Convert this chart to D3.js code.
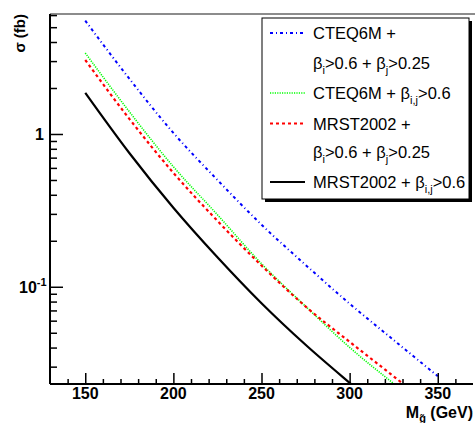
<!DOCTYPE html>
<html>
<head>
<meta charset="utf-8">
<script src="https://cdn.jsdelivr.net/npm/d3@7"></script>
<style>
  body { margin: 0; background: #fff; }
  svg { display: block; font-family: "Liberation Sans", Arial, Helvetica, sans-serif; }
</style>
</head>
<body>
<svg id="chart" width="475" height="423"></svg>
<script>
// ---- data ----
const massX = [150, 175, 200, 225, 250, 275, 300, 325, 350];
const cteqLoose = [5.52, 2.30, 1.016, 0.50, 0.255, 0.139, 0.0775, 0.0448, 0.0260];
const massGreen = [150, 175, 200, 225, 250, 275, 300, 325];
const cteqTight = [3.39, 1.40, 0.611, 0.296, 0.1416, 0.0745, 0.0401, 0.0232];
const massRed = [150, 175, 200, 225, 250, 275, 300, 325, 330];
const mrstLoose = [3.05, 1.257, 0.557, 0.270, 0.1377, 0.0743, 0.0436, 0.0259, 0.0233];
const massBlack = [150, 175, 200, 225, 250, 275, 300, 305];
const mrstTight = [1.86, 0.751, 0.329, 0.156, 0.078, 0.0417, 0.0235, 0.0210];

const xTicks = [150, 200, 250, 300, 350];
const xDomain = [130, 370];
const yDomain = [0.0231, 6.1];

const legendRows = [
  { color: "#0000ff", dash: "3,3,1,3", width: 2, text: "CTEQ6M +" },
  { color: null, text: "β_{i}>0.6 + β_{j}>0.25" },
  { color: "#00ff00", dash: "1.2,1.2", width: 1.6, text: "CTEQ6M + β_{i,j}>0.6" },
  { color: "#ff0000", dash: "3,3", width: 2.2, text: "MRST2002 +" },
  { color: null, text: "β_{i}>0.6 + β_{j}>0.25" },
  { color: "#000000", dash: null, width: 2.2, text: "MRST2002 + β_{i,j}>0.6" }
];

const series = [
  { xs: massX, ys: cteqLoose, color: "#0000ff", dash: "3,3,1,3", width: 2 },
  { xs: massGreen, ys: cteqTight, color: "#00ff00", dash: "1.2,1.2", width: 1.6 },
  { xs: massRed, ys: mrstLoose, color: "#ff0000", dash: "3,3", width: 2.2 },
  { xs: massBlack, ys: mrstTight, color: "#000000", dash: null, width: 2.2 }
];

// ---- layout ----
const L = 50, R = 473, T = 14, B = 384;
const svg = d3.select("#chart");
const x = d3.scaleLinear().domain(xDomain).range([L, R]);
const y = d3.scaleLog().domain(yDomain).range([B, T]);

svg.append("defs").append("clipPath").attr("id", "clip")
  .append("rect").attr("x", L).attr("y", T).attr("width", R - L).attr("height", B - T);

// frame top
svg.append("line").attr("x1", L).attr("x2", R + 2).attr("y1", T).attr("y2", T)
  .attr("stroke", "#666").attr("stroke-width", 1.5);

// curves
const line = d3.line().curve(d3.curveMonotoneX);
const gCurves = svg.append("g").attr("clip-path", "url(#clip)");
series.forEach(s => {
  const pts = s.xs.map((v, i) => [x(v), y(s.ys[i])]);
  gCurves.append("path").attr("d", line(pts))
    .attr("fill", "none").attr("stroke", s.color).attr("stroke-width", s.width)
    .attr("stroke-dasharray", s.dash);
});

// x axis
const xMinor = d3.range(140, 370, 10).filter(v => !xTicks.includes(v));
const xAxisMinor = d3.axisTop(x).tickValues(xMinor).tickSize(5).tickFormat("");
const xAxisMajor = d3.axisTop(x).tickValues(xTicks).tickSize(11).tickFormat("");
[xAxisMinor, xAxisMajor].forEach(ax => {
  const g = svg.append("g").attr("transform", `translate(0,${B})`).call(ax);
  g.select(".domain").remove();
  g.selectAll("line").attr("stroke", "#000").attr("stroke-width", 1.5);
});
svg.append("g").selectAll("text").data(xTicks).join("text")
  .attr("x", d => x(d)).attr("y", 399).attr("text-anchor", "middle")
  .attr("font-size", 16).attr("font-weight", "bold").text(d => d);

// y axis
const yMajor = [0.1, 1];
const yMinorAll = [];
[0.01, 0.1, 1].forEach(dec => { for (let k = 2; k <= 9; k++) yMinorAll.push(dec * k); });
const yMinor = yMinorAll.filter(v => v >= yDomain[0] && v <= yDomain[1]);
const yAxisMinor = d3.axisRight(y).tickValues(yMinor).tickSize(7).tickFormat("");
const yAxisMajor = d3.axisRight(y).tickValues(yMajor).tickSize(13).tickFormat("");
[yAxisMinor, yAxisMajor].forEach(ax => {
  const g = svg.append("g").attr("transform", `translate(${L},0)`).call(ax);
  g.select(".domain").remove();
  g.selectAll("line").attr("stroke", "#000").attr("stroke-width", 1.5);
});
// axis lines
svg.append("line").attr("x1", L).attr("x2", R).attr("y1", B).attr("y2", B)
  .attr("stroke", "#000").attr("stroke-width", 2);
svg.append("line").attr("x1", L).attr("x2", L).attr("y1", T).attr("y2", B)
  .attr("stroke", "#000").attr("stroke-width", 2);

// y labels
svg.append("text").attr("x", 44).attr("y", y(1) + 6).attr("text-anchor", "end")
  .attr("font-size", 16).attr("font-weight", "bold").text("1");
const t01 = svg.append("text").attr("x", 19).attr("y", y(0.1) + 6)
  .attr("font-size", 16).attr("font-weight", "bold");
t01.append("tspan").text("10");
t01.append("tspan").attr("dy", -7).attr("font-size", 11).text("-1");

// axis titles
svg.append("text").attr("transform", `translate(25,${T}) rotate(-90)`)
  .attr("text-anchor", "end").attr("font-size", 15).attr("font-weight", "bold")
  .text("σ (fb)");
const xt = svg.append("text").attr("x", R).attr("y", 418).attr("text-anchor", "end")
  .attr("font-size", 16).attr("font-weight", "bold");
xt.append("tspan").text("M");
xt.append("tspan").attr("dy", 4).attr("font-size", 11).text("g\u0303");
xt.append("tspan").attr("dy", -4).text(" (GeV)");

// legend
const LX = 262, LY = 18, LW = 207, LH = 181;
svg.append("rect").attr("x", LX + 3).attr("y", LY + 3).attr("width", LW).attr("height", LH).attr("fill", "#000");
svg.append("rect").attr("x", LX).attr("y", LY).attr("width", LW).attr("height", LH)
  .attr("fill", "#fff").attr("stroke", "#000").attr("stroke-width", 1);
const rowY = [33, 63, 93, 123.5, 152, 182];
legendRows.forEach((r, i) => {
  const cy = rowY[i];
  if (r.color) {
    svg.append("line").attr("x1", 270).attr("x2", 305).attr("y1", cy).attr("y2", cy)
      .attr("stroke", r.color).attr("stroke-width", r.width).attr("stroke-dasharray", r.dash);
  }
  const t = svg.append("text").attr("x", 313).attr("y", cy + 6).attr("font-size", 16.5);
  const parts = r.text.split(/(_\{[^}]*\})/);
  let shifted = false;
  parts.forEach(p => {
    if (!p) return;
    if (p.startsWith("_{")) {
      t.append("tspan").attr("dy", 5).attr("font-size", 11).text(p.slice(2, -1));
      shifted = true;
    } else {
      t.append("tspan").attr("dy", shifted ? -5 : 0).text(p);
      shifted = false;
    }
  });
});
</script>
</body>
</html>
